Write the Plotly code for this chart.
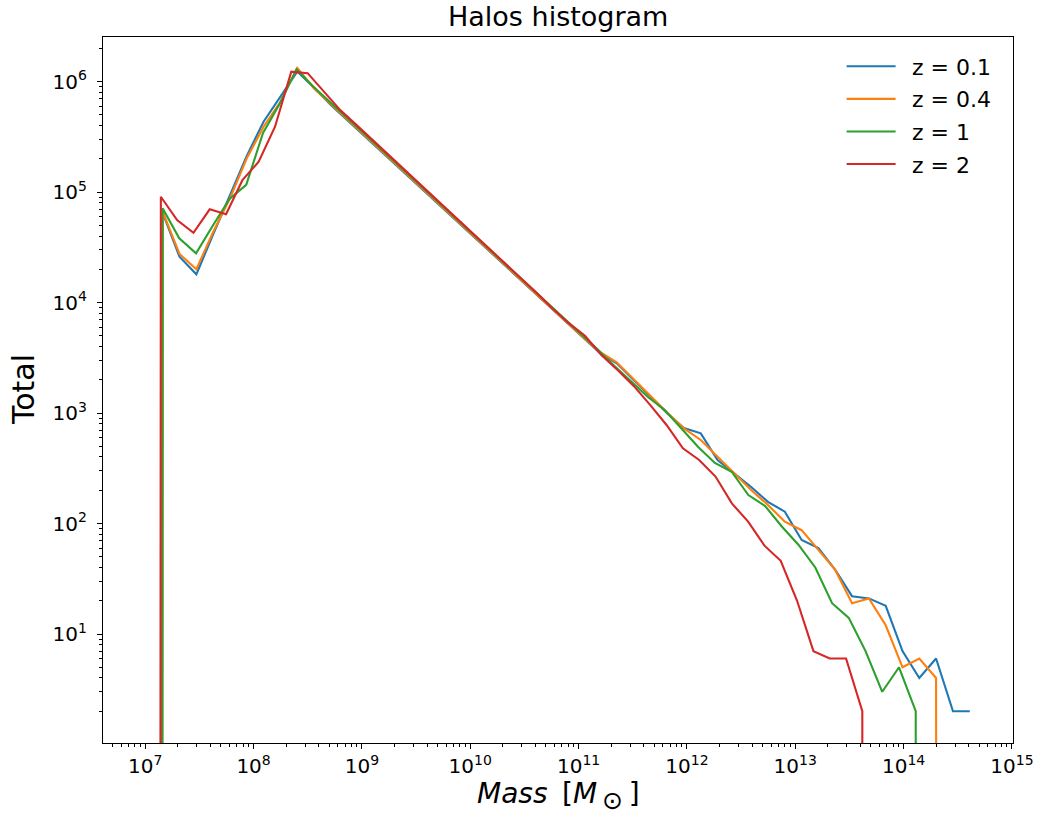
import plotly.graph_objects as go

# log10 of halo mass (bin positions) per redshift
logm_z01 = [7.006, 7.161, 7.316, 7.472, 7.627, 7.782, 7.937, 8.092, 8.248, 8.403,
            8.558, 8.713, 8.868, 9.024, 9.179, 9.334, 9.489, 9.644, 9.800, 9.955,
            10.110, 10.265, 10.420, 10.576, 10.731, 10.886, 11.041, 11.196, 11.352, 11.507,
            11.662, 11.817, 11.972, 12.128, 12.283, 12.438, 12.593, 12.748, 12.904, 13.059,
            13.214, 13.369, 13.524, 13.680, 13.835, 13.990, 14.145, 14.300, 14.456, 14.611]
count_z01 = [0, 64600, 26000, 18000, 41400, 94000, 212000, 433000, 728000, 1230000,
             880000, 613000, 444000, 321000, 232000, 168000, 121000, 87900, 63500, 45900,
             33200, 24000, 17400, 12600, 9080, 6580, 4760, 3500, 2820, 1990,
             1400, 994, 731, 655, 375, 285, 214, 157, 128, 71,
             60, 38, 22, 21, 18, 7, 4, 6, 2, 2]

logm_z04 = [7.006, 7.161, 7.316, 7.472, 7.627, 7.782, 7.937, 8.092, 8.248, 8.403,
            8.558, 8.713, 8.868, 9.024, 9.179, 9.334, 9.489, 9.644, 9.800, 9.955,
            10.110, 10.265, 10.420, 10.576, 10.731, 10.886, 11.041, 11.196, 11.352, 11.507,
            11.662, 11.817, 11.972, 12.128, 12.283, 12.438, 12.593, 12.748, 12.904, 13.059,
            13.214, 13.369, 13.524, 13.680, 13.835, 13.990, 14.145, 14.300, 14.456]
count_z04 = [0, 66300, 27500, 20000, 43500, 87700, 202000, 390000, 656000, 1330000,
             866000, 626000, 453000, 328000, 237000, 172000, 124000, 89700, 64800, 46900,
             33900, 24500, 17800, 12900, 9270, 6720, 4860, 3580, 2880, 2030,
             1430, 1010, 727, 570, 402, 285, 201, 147, 104, 87,
             58, 38, 19, 21, 12, 5, 6, 4, 0]

logm_z1 = [7.005, 7.160, 7.314, 7.469, 7.623, 7.778, 7.932, 8.087, 8.241, 8.396,
           8.550, 8.705, 8.859, 9.014, 9.168, 9.323, 9.477, 9.632, 9.786, 9.941,
           10.095, 10.250, 10.404, 10.559, 10.713, 10.868, 11.022, 11.177, 11.331, 11.486,
           11.640, 11.795, 11.949, 12.104, 12.258, 12.413, 12.567, 12.722, 12.876, 13.031,
           13.185, 13.340, 13.494, 13.649, 13.803, 13.958, 14.112, 14.267]
count_z1 = [0, 71200, 38100, 27900, 49500, 86500, 116000, 342000, 630000, 1290000,
            901000, 654000, 473000, 343000, 248000, 180000, 130000, 94400, 68300, 49600,
            35900, 26000, 18800, 13600, 9880, 7150, 5180, 3760, 2660, 1930,
            1396, 1064, 731, 492, 353, 294, 181, 144, 94, 64,
            40, 19, 14, 7, 3, 5, 2, 0]

logm_z2 = [6.993, 7.144, 7.294, 7.445, 7.595, 7.746, 7.897, 8.047, 8.198, 8.348,
           8.499, 8.650, 8.800, 8.951, 9.101, 9.252, 9.403, 9.553, 9.704, 9.854,
           10.005, 10.156, 10.306, 10.457, 10.607, 10.758, 10.909, 11.059, 11.210, 11.360,
           11.511, 11.662, 11.812, 11.963, 12.113, 12.264, 12.415, 12.565, 12.716, 12.866,
           13.017, 13.168, 13.318, 13.469, 13.619, 13.770]
count_z2 = [0, 90600, 55800, 42800, 69700, 62900, 128000, 188000, 390000, 1230000,
            1190000, 800000, 551000, 403000, 294000, 214000, 157000, 115000, 83600, 61100,
            44600, 32500, 23800, 17300, 12400, 8890, 6500, 5000, 3350, 2450,
            1750, 1180, 779, 480, 376, 266, 152, 104, 63, 46,
            20, 7, 6, 6, 2, 0]

series_names = ["z = 0.1", "z = 0.4", "z = 1", "z = 2"]
series_colors = ["#1f77b4", "#ff7f0e", "#2ca02c", "#d62728"]

x_tick_exps = [7, 8, 9, 10, 11, 12, 13, 14, 15]
y_tick_exps = [1, 2, 3, 4, 5, 6]

FLOOR = 1e-200  # empty bins (zero counts) drop off the bottom of the log axis, as in matplotlib

FONT = "DejaVu Sans"

fig = go.Figure()
for name, color, lm, cnt in zip(series_names, series_colors,
                                [logm_z01, logm_z04, logm_z1, logm_z2],
                                [count_z01, count_z04, count_z1, count_z2]):
    fig.add_trace(go.Scatter(
        x=[10 ** v for v in lm],
        y=[c if c > 0 else FLOOR for c in cnt],
        mode="lines", name="&nbsp;\u2009" + name, legendgroup=name,
        line=dict(color=color, width=2.1),
        hoverinfo="skip",
    ))

x_minor = [m * 10 ** e for e in range(6, 15) for m in range(2, 10)]
y_minor = [m * 10 ** e for e in range(0, 7) for m in range(2, 10)]

fig.update_xaxes(
    type="log", range=[6.610, 15.010], automargin=False,
    tickmode="array", tickvals=[10 ** e for e in x_tick_exps],
    ticktext=[f"10<sup>{e}</sup>" for e in x_tick_exps],
    ticks="outside", ticklen=5, tickwidth=1.1, tickcolor="black",
    minor=dict(tickmode="array", tickvals=x_minor, ticks="outside", ticklen=3,
               tickwidth=0.8, tickcolor="black", showgrid=False),
    showline=True, linecolor="black", linewidth=1.1, mirror=True,
    showgrid=False, zeroline=False,
    tickfont=dict(family=FONT, size=20, color="black"),
    ticklabelstandoff=0,
)
fig.update_yaxes(
    type="log", range=[0.0136, 6.403], automargin=False,
    tickmode="array", tickvals=[10 ** e for e in y_tick_exps],
    ticktext=[f"10<sup>{e}</sup>" for e in y_tick_exps],
    ticks="outside", ticklen=5, tickwidth=1.1, tickcolor="black",
    minor=dict(tickmode="array", tickvals=y_minor, ticks="outside", ticklen=3,
               tickwidth=0.8, tickcolor="black", showgrid=False),
    showline=True, linecolor="black", linewidth=1.1, mirror=True,
    showgrid=False, zeroline=False,
    tickfont=dict(family=FONT, size=20, color="black"),
    ticklabelstandoff=6,
)

fig.update_layout(
    width=1038, height=820, autosize=False,
    margin=dict(l=103, r=25, t=37, b=77, pad=0, autoexpand=False),
    paper_bgcolor="white", plot_bgcolor="white",
    font=dict(family=FONT, color="black"),
    showlegend=True,
    legend=dict(
        x=0.982, y=0.988, xanchor="right", yanchor="top",
        bgcolor="rgba(0,0,0,0)", borderwidth=0,
        font=dict(family=FONT, size=22, color="black"),
        itemwidth=49, tracegroupgap=1,
    ),
    annotations=[
        dict(text="Halos histogram", xref="paper", yref="paper", x=0.5, y=1 + 21 / 706,
             xanchor="center", yanchor="middle", showarrow=False,
             font=dict(family=FONT, size=27, color="black")),
        dict(text="Total", xref="paper", yref="paper", x=(23 - 103) / 910, y=0.5,
             xanchor="center", yanchor="middle", textangle=-90, showarrow=False,
             font=dict(family=FONT, size=30, color="black")),
        dict(text="<i>Mass</i>\u2009 [<i>M</i><sub><span style='font-size:25px'>\u2009⊙</span></sub>\u2009]",
             xref="paper", yref="paper",
             x=0.5, y=-(796 - 743) / 706, xanchor="center", yanchor="middle",
             showarrow=False, font=dict(family=FONT, size=28, color="black")),
    ],
)

fig.write_html("out.html")
